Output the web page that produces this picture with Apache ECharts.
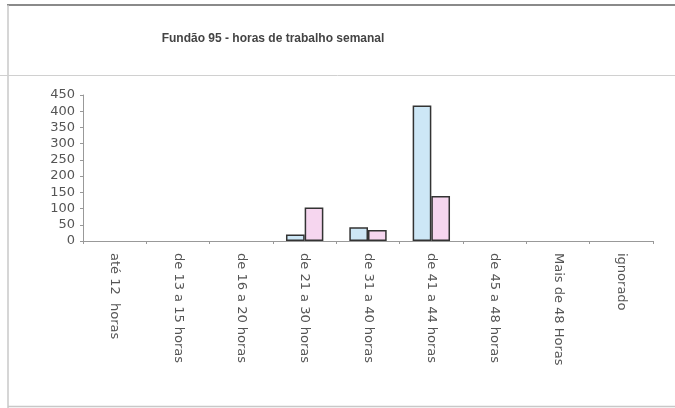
<!DOCTYPE html>
<html>
<head>
<meta charset="utf-8">
<script src="https://cdn.jsdelivr.net/npm/echarts@6/dist/echarts.min.js"></script>
<style>html,body{margin:0;padding:0;background:#fff}#c{width:675px;height:408px}</style>
</head>
<body>
<div id="c"></div>
<script>
const titleText = 'Fundão 95 - horas de trabalho semanal';
const categories = ['até 12  horas','de 13 a 15 horas','de 16 a 20 horas','de 21 a 30 horas','de 31 a 40 horas','de 41 a 44 horas','de 45 a 48 horas','Mais de 48 Horas','ignorado'];
const seriesA = [0, 0, 0, 20, 42, 418, 0, 0, 0];
const seriesB = [0, 0, 0, 103, 34, 139, 0, 0, 0];
const yTicks = [0, 450, 50];

// empty categories draw no bar outline in the reference
const toBars = arr => arr.map(v => (v === 0 ? null : v));

const chart = echarts.init(document.getElementById('c'), null, {renderer: 'canvas'});
chart.setOption({
  backgroundColor: '#fff',
  animation: false,
  title: {
    text: titleText, left: 268, top: 28, textAlign: 'center',
    textStyle: {fontFamily: 'Liberation Sans, Arial, sans-serif', fontSize: 12, fontWeight: 'bold', color: '#444'}
  },
  graphic: [
    {type: 'line', shape: {x1: 7, y1: 5, x2: 675, y2: 5}, style: {stroke: '#8a8a8a', lineWidth: 2}},
    {type: 'line', shape: {x1: 8, y1: 5, x2: 8, y2: 408}, style: {stroke: '#c8c8c8', lineWidth: 1.5}},
    {type: 'line', shape: {x1: 0, y1: 75.5, x2: 675, y2: 75.5}, style: {stroke: '#d0d0d0', lineWidth: 1}},
    {type: 'line', shape: {x1: 8, y1: 406.5, x2: 675, y2: 406.5}, style: {stroke: '#c8c8c8', lineWidth: 1.5}}
  ],
  grid: {left: 83, right: 22, top: 95, bottom: 167, containLabel: false},
  xAxis: {
    type: 'category', data: categories,
    axisLine: {lineStyle: {color: '#999', width: 1}},
    axisTick: {show: true, length: 3, lineStyle: {color: '#999'}},
    axisLabel: {rotate: -90, margin: 12, fontSize: 13, color: '#555', fontFamily: 'DejaVu Sans, sans-serif', interval: 0}
  },
  yAxis: {
    type: 'value', min: yTicks[0], max: yTicks[1], interval: yTicks[2],
    splitLine: {show: false},
    axisLine: {show: true, lineStyle: {color: '#999', width: 1}},
    axisTick: {show: true, length: 3, lineStyle: {color: '#999'}},
    axisLabel: {margin: 8, fontSize: 13, color: '#555', fontFamily: 'DejaVu Sans, sans-serif'}
  },
  series: [
    {type: 'bar', data: toBars(seriesA), barGap: '0%', barCategoryGap: '41%',
     itemStyle: {color: '#cde7f6', borderColor: '#333', borderWidth: 1.5}},
    {type: 'bar', data: toBars(seriesB),
     itemStyle: {color: '#f6d6ef', borderColor: '#333', borderWidth: 1.5}}
  ]
});
</script>
</body>
</html>
